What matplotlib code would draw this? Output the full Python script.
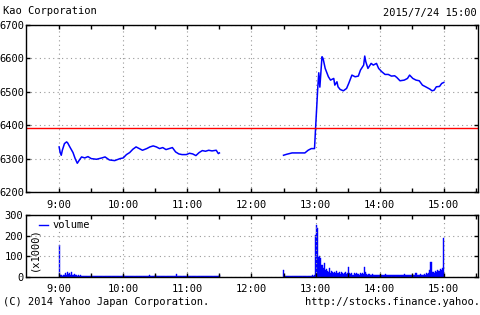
import matplotlib
matplotlib.use("Agg")
import matplotlib.pyplot as plt
from matplotlib.ticker import MultipleLocator, FixedLocator
from matplotlib.lines import Line2D

# price, morning session
am_times = ["9:00", "9:01", "9:02", "9:03", "9:05", "9:07", "9:08", "9:10", "9:13", "9:15",
            "9:17", "9:19", "9:21", "9:24", "9:27", "9:30", "9:35", "9:40", "9:43", "9:47",
            "9:52", "9:57", "10:00", "10:03", "10:06", "10:09", "10:12", "10:15", "10:18",
            "10:22", "10:25", "10:28", "10:31", "10:34", "10:37", "10:40", "10:43", "10:46",
            "10:49", "10:52", "10:55", "10:59", "11:02", "11:05", "11:08", "11:11", "11:14",
            "11:17", "11:20", "11:23", "11:27", "11:29", "11:30"]
am_price = [6335, 6318, 6310, 6325, 6345, 6350, 6347, 6335, 6318, 6300,
            6286, 6296, 6305, 6302, 6306, 6300, 6298, 6302, 6305, 6296,
            6294, 6300, 6302, 6312, 6318, 6328, 6335, 6330, 6325,
            6330, 6335, 6338, 6335, 6330, 6333, 6327, 6330, 6333,
            6320, 6314, 6312, 6312, 6316, 6314, 6309, 6318, 6324,
            6322, 6325, 6323, 6325, 6315, 6317]

# price, afternoon session
pm_times = ["12:30", "12:33", "12:38", "12:44", "12:50", "12:53", "12:56", "12:59", "13:00",
            "13:01", "13:02", "13:03", "13:04", "13:06", "13:07", "13:09", "13:12", "13:14",
            "13:17", "13:18", "13:20", "13:21", "13:23", "13:26", "13:29", "13:31", "13:34",
            "13:37", "13:40", "13:42", "13:45", "13:46", "13:47", "13:49", "13:52", "13:54",
            "13:57", "13:59", "14:02", "14:05", "14:08", "14:11", "14:14", "14:16", "14:19",
            "14:23", "14:26", "14:28", "14:31", "14:34", "14:37", "14:40", "14:43", "14:47",
            "14:49", "14:51", "14:53", "14:56", "14:58", "15:00"]
pm_price = [6310, 6313, 6317, 6317, 6317, 6325, 6330, 6330, 6391,
            6450, 6510, 6557, 6514, 6605, 6600, 6570, 6545, 6535,
            6540, 6520, 6530, 6515, 6507, 6503, 6510, 6525, 6550,
            6545, 6547, 6565, 6580, 6607, 6590, 6570, 6585, 6580,
            6585, 6570, 6560, 6552, 6552, 6547, 6548, 6543, 6533,
            6535, 6540, 6550, 6540, 6535, 6533, 6520, 6515, 6508,
            6503, 6505, 6515, 6516, 6525, 6528]

prev_close = 6393

# volume (x1000), one value per minute from the session start
am_vol_start = "9:00"
am_vol = [155, 8, 10, 6, 12, 8, 18, 10, 25, 15,
          20, 12, 22, 10, 15, 8, 12, 6, 10, 5,
          8, 5, 6, 4, 7, 5, 4, 6, 5, 4,
          6, 4, 5, 3, 5, 4, 6, 3, 4, 5,
          4, 5, 3, 6, 4, 5, 3, 4, 5, 4,
          6, 3, 4, 5, 4, 3, 5, 4, 6, 4,
          8, 4, 5, 3, 6, 4, 5, 3, 4, 5,
          4, 6, 3, 5, 4, 7, 3, 4, 5, 4,
          5, 4, 6, 3, 5, 8, 4, 5, 3, 4,
          12, 4, 5, 3, 6, 4, 5, 4, 3, 5,
          4, 6, 3, 5, 4, 5, 3, 4, 6, 4,
          14, 4, 5, 3, 6, 4, 5, 3, 4, 5,
          6, 4, 5, 3, 4, 5, 3, 4, 5, 4,
          4, 5, 3, 6, 4, 5, 3, 4, 5, 4,
          5, 3, 4, 6, 4, 3, 5, 4, 3, 5,
          8]
pm_vol_start = "12:30"
pm_vol = [32, 6, 4, 3, 5, 4, 3, 5, 4, 3,
          5, 3, 4, 5, 3, 4, 6, 3, 4, 3,
          5, 4, 3, 6, 4, 5, 3, 8, 6, 10,
          205, 250, 237, 95, 100, 90, 60, 45, 68, 35,
          40, 30, 25, 43, 20, 30, 22, 18, 25, 20,
          30, 18, 22, 15, 25, 20, 15, 18, 22, 15,
          20, 50, 18, 15, 20, 12, 18, 15, 20, 14,
          15, 12, 18, 14, 20, 15, 48, 22, 15, 12,
          14, 10, 12, 15, 10, 12, 8, 10, 12, 9,
          10, 8, 12, 10, 8, 14, 9, 10, 8, 12,
          10, 8, 12, 9, 10, 8, 12, 10, 9, 8,
          12, 10, 8, 14, 10, 9, 12, 8, 10, 12,
          9, 10, 12, 8, 18, 10, 12, 9, 14, 10,
          12, 10, 15, 12, 18, 14, 20, 35, 72, 25,
          22, 18, 30, 25, 35, 28, 30, 40, 35, 45,
          188]


def to_min(t):
    h, m = t.split(":")
    return int(h) * 60 + int(m)


plt.rcParams["font.family"] = ["DejaVu Sans Mono"]
plt.rcParams["font.size"] = 7.5

fig = plt.figure(figsize=(4.8, 3.15), dpi=100)
ax = fig.add_axes([26 / 480, 1 - 192 / 315, 452 / 480, 167 / 315])
axv = fig.add_axes([26 / 480, 1 - 277 / 315, 452 / 480, 62 / 315])

xmin, xmax = 509, 932
hour_labels = ["9:00", "10:00", "11:00", "12:00", "13:00", "14:00", "15:00"]
hours = [to_min(h) for h in hour_labels]

for a in (ax, axv):
    a.set_xlim(xmin, xmax)
    a.xaxis.set_major_locator(FixedLocator(hours))
    a.xaxis.set_minor_locator(FixedLocator([h + 30 for h in hours]))
    a.set_xticklabels(hour_labels)
    a.tick_params(which="both", direction="in", top=True, right=True, length=3, width=1,
                  pad=6, labelsize=7.5)
    a.grid(True, color="#999999", linestyle=(0, (1, 3)), linewidth=0.8)
    for s in a.spines.values():
        s.set_linewidth(1)

ax.plot([to_min(t) for t in am_times], am_price, color="#0000ff", lw=1.1)
ax.plot([to_min(t) for t in pm_times], pm_price, color="#0000ff", lw=1.1)
ax.axhline(prev_close, color="#ff0000", lw=1)
ax.set_ylim(6200, 6700)
ax.yaxis.set_major_locator(MultipleLocator(100))
ax.tick_params(axis="y", pad=1)

for start, vals in ((am_vol_start, am_vol), (pm_vol_start, pm_vol)):
    x0 = to_min(start)
    xs = [x0 + i for i in range(len(vals))]
    axv.bar(xs, vals, width=1.0, color="#0000ff", edgecolor="#0000ff", linewidth=0.3)
axv.set_ylim(0, 300)
axv.yaxis.set_major_locator(MultipleLocator(100))
axv.tick_params(axis="y", pad=2)
axv.tick_params(axis="x", pad=5)
handle = Line2D([], [], color="#0000ff", lw=1)
axv.legend([handle], ["volume"], loc="upper left", bbox_to_anchor=(0.018, 1.0),
           frameon=False, handlelength=0.8, handletextpad=0.5, borderaxespad=0.1,
           fontsize=7.5)
axv.text(0.008, 0.45, "(x1000)", transform=axv.transAxes, rotation=90,
         ha="left", va="center", fontsize=7.5)

fig.text(3 / 480, 1 - 11 / 315, "Kao Corporation", ha="left", va="center", fontsize=7.5)
fig.text(477 / 480, 1 - 13 / 315, "2015/7/24 15:00", ha="right", va="center", fontsize=7.5)
fig.text(3 / 480, 1 - 302 / 315, "(C) 2014 Yahoo Japan Corporation.", ha="left",
         va="center", fontsize=7.5)
fig.text(480 / 480, 1 - 302 / 315, "http://stocks.finance.yahoo.", ha="right",
         va="center", fontsize=7.5)

fig.savefig("out.png", dpi=100)
